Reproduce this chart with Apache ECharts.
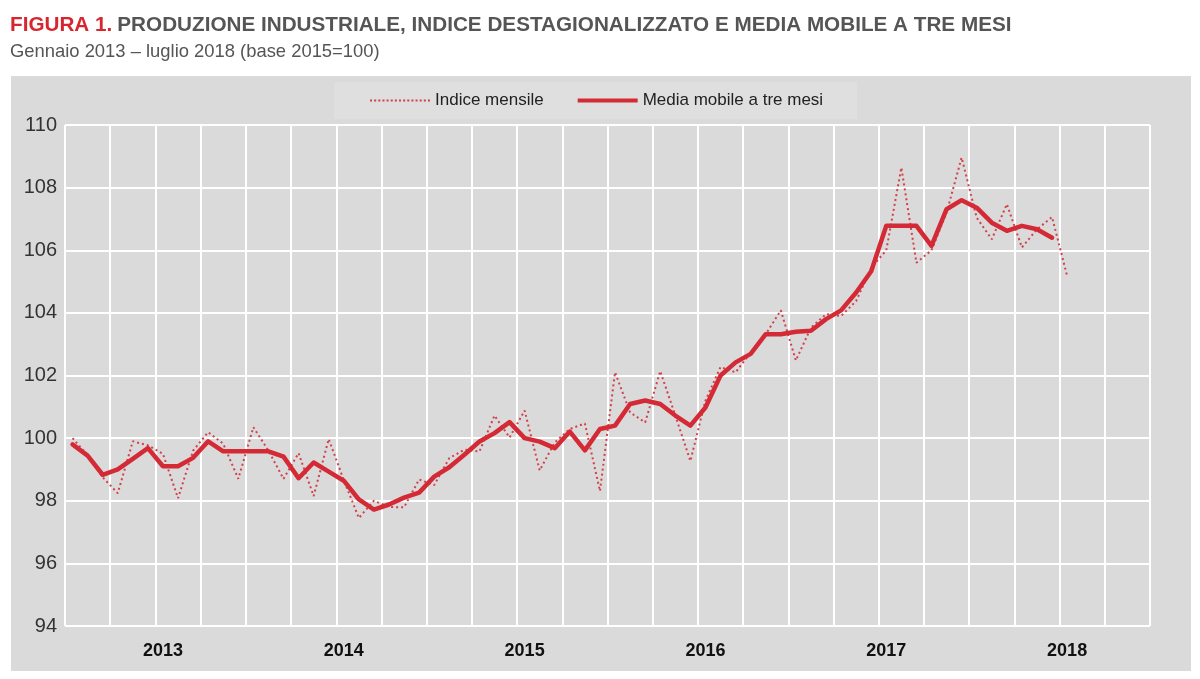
<!DOCTYPE html>
<html>
<head>
<meta charset="utf-8">
<script src="https://cdn.jsdelivr.net/npm/echarts@6/dist/echarts.min.js"></script>
<style>
html,body{margin:0;padding:0;background:#fff;}
#c{width:1200px;height:679px;}
</style>
</head>
<body>
<div id="c"></div>
<script>
// Categories: Jan 2013 .. Dec 2018 (last months of 2018 empty)
var years = ['2013','2014','2015','2016','2017','2018'];
var months = ['gen','feb','mar','apr','mag','giu','lug','ago','set','ott','nov','dic'];
var categories = [];
years.forEach(function(y){ months.forEach(function(m){ categories.push(m + ' ' + y); }); });

// Indice mensile (Jan 2013 - Jul 2018)
var indiceMensile = [
  100.0, 99.45, 98.75, 98.24, 99.9, 99.77, 99.5, 98.08, 99.6, 100.19, 99.82, 98.7,
  100.35, 99.6, 98.7, 99.52, 98.15, 99.97, 98.66, 97.45, 98.0, 97.8, 97.79, 98.68,
  98.5, 99.36, 99.63, 99.57, 100.72, 100.02, 100.88, 98.97, 99.86, 100.29, 100.47, 98.31,
  102.1, 100.82, 100.5, 102.14, 100.72, 99.27, 101.2, 102.27, 102.1, 102.74, 103.32, 104.08,
  102.48, 103.53, 103.96, 103.9, 104.38, 105.44, 106.0, 108.64, 105.6, 106.0, 107.2, 108.96,
  107.04, 106.35, 107.47, 106.09, 106.67, 107.06, 105.18
];

// Media mobile a tre mesi (Jan 2013 - Jun 2018)
var mediaMobile = [
  99.8, 99.44, 98.83, 99.0, 99.34, 99.68, 99.1, 99.1, 99.37, 99.9, 99.58, 99.58,
  99.58, 99.58, 99.41, 98.72, 99.22, 98.93, 98.64, 98.04, 97.72, 97.88, 98.1, 98.26,
  98.77, 99.07, 99.47, 99.89, 100.16, 100.51, 100.0, 99.89, 99.68, 100.21, 99.61, 100.29,
  100.4, 101.09, 101.2, 101.09, 100.72, 100.4, 100.98, 102.0, 102.42, 102.69, 103.32, 103.32,
  103.4, 103.43, 103.8, 104.08, 104.65, 105.33, 106.78, 106.78, 106.78, 106.14, 107.31, 107.6,
  107.36, 106.88, 106.62, 106.78, 106.67, 106.4
];

var yTicks = {min: 94, max: 110, interval: 2};

var FONT = "'Liberation Sans Narrow', 'Arial Narrow', 'Liberation Sans', Arial, sans-serif";

// legend icons
var dotPath = 'path://';
for (var k = 0; k < 58; k += 4) { dotPath += 'M' + k + ',0h2v2h-2z'; }
var solidPath = 'path://M0,0h62v4h-62z';

var chart = echarts.init(document.getElementById('c'), null, {renderer: 'canvas'});
chart.setOption({
  backgroundColor: '#ffffff',
  animation: false,
  textStyle: {fontFamily: FONT},
  graphic: [{
    type: 'rect', z: -10, silent: true,
    shape: {x: 11, y: 76, width: 1180, height: 595},
    style: {fill: '#dadada'}
  }],
  title: [{
    left: 5, top: 10,
    text: '{a|FIGURA 1.} {b|PRODUZIONE INDUSTRIALE, INDICE DESTAGIONALIZZATO E MEDIA MOBILE A TRE MESI}',
    textStyle: {
      rich: {
        a: {fontFamily: FONT, fontSize: 20.7, fontWeight: 'bold', color: '#d7262e'},
        b: {fontFamily: FONT, fontSize: 20.7, fontWeight: 'bold', color: '#555555'}
      }
    }
  }, {
    left: 5, top: 38,
    text: 'Gennaio 2013 \u2013 luglio 2018 (base 2015=100)',
    textStyle: {fontFamily: FONT, fontSize: 18.4, fontWeight: 'normal', color: '#555555'}
  }],
  legend: {
    left: 334, top: 82,
    padding: [10, 34, 10, 36],
    backgroundColor: '#dfdfdf',
    itemWidth: 60, itemHeight: 4, itemGap: 34,
    textStyle: {fontFamily: FONT, fontSize: 17, color: '#222222'},
    data: [
      {name: 'Indice mensile', icon: dotPath, itemStyle: {color: '#d2404b'}},
      {name: 'Media mobile a tre mesi', icon: solidPath, itemStyle: {color: '#d42a35'}}
    ]
  },
  grid: {left: 65, right: 50, top: 125, bottom: 53, containLabel: false},
  xAxis: {
    type: 'category',
    data: categories,
    boundaryGap: true,
    axisLine: {show: false},
    axisTick: {show: false},
    axisLabel: {
      interval: function(i){ return i % 12 === 6; },
      formatter: function(v){ return v.slice(-4); },
      fontFamily: FONT, fontSize: 18, fontWeight: 'bold', color: '#111111',
      margin: 16
    },
    splitLine: {
      show: true,
      interval: function(i){ return i % 3 === 0; },
      lineStyle: {color: '#ffffff', width: 2}
    }
  },
  yAxis: {
    type: 'value',
    min: yTicks.min, max: yTicks.max, interval: yTicks.interval,
    axisLine: {show: false},
    axisTick: {show: false},
    axisLabel: {fontFamily: FONT, fontSize: 20, color: '#333333', margin: 8},
    splitLine: {show: true, lineStyle: {color: '#ffffff', width: 2}}
  },
  series: [{
    name: 'Indice mensile',
    type: 'line',
    data: indiceMensile,
    symbol: 'none',
    smooth: false,
    z: 2,
    lineStyle: {color: '#d2404b', width: 2, type: [2, 3]},
    itemStyle: {color: '#d2404b'}
  }, {
    name: 'Media mobile a tre mesi',
    type: 'line',
    data: mediaMobile,
    symbol: 'none',
    smooth: false,
    z: 3,
    lineStyle: {color: '#d42a35', width: 4.5, cap: 'round', join: 'round'},
    itemStyle: {color: '#d42a35'}
  }]
});
</script>
</body>
</html>
